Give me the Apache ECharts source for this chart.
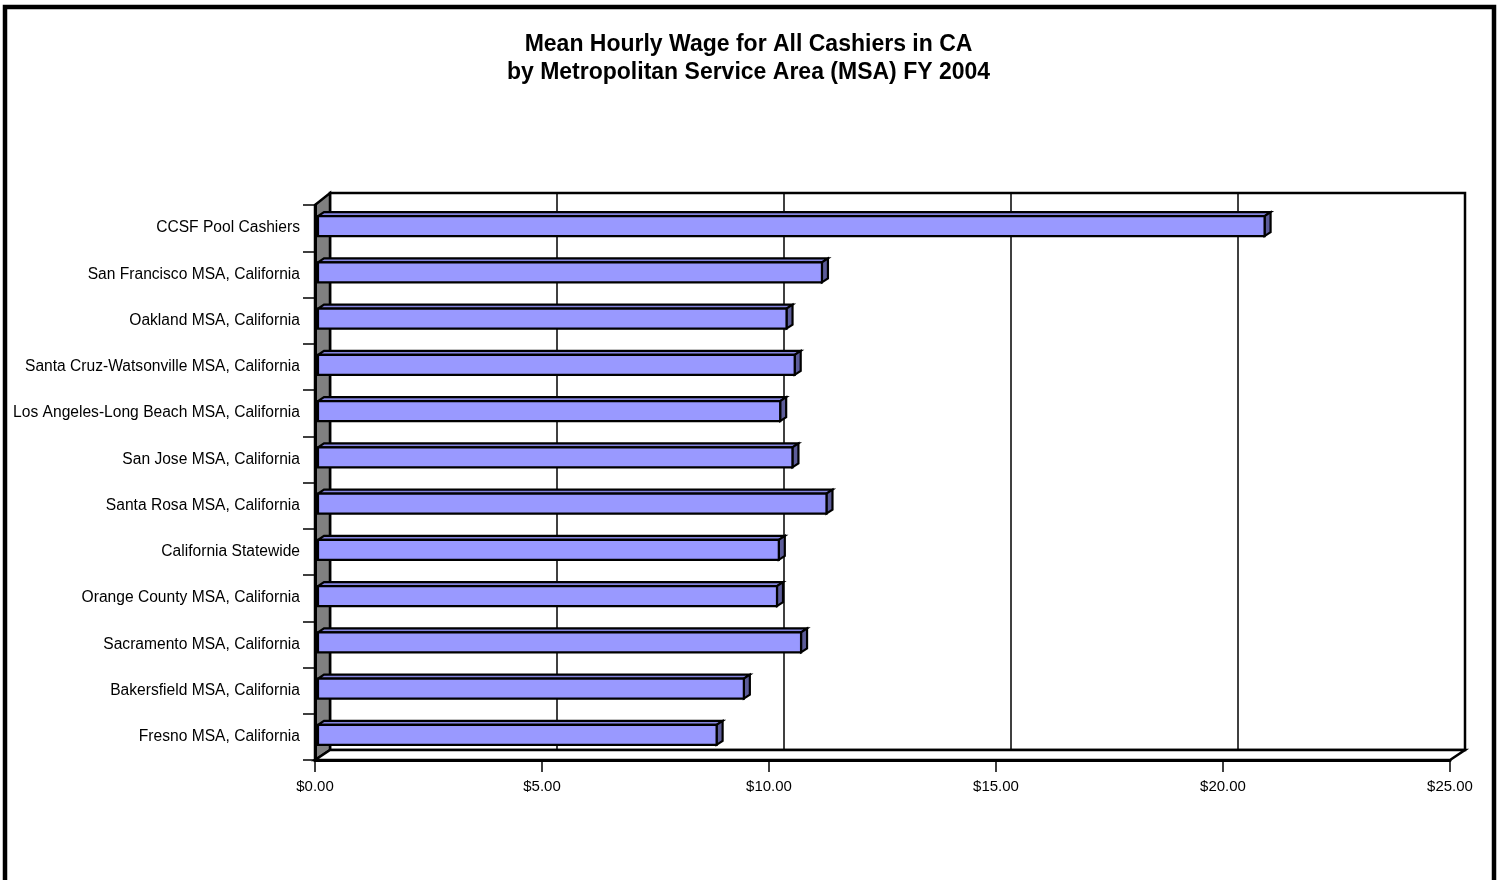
<!DOCTYPE html>
<html>
<head>
<meta charset="utf-8">
<title>Mean Hourly Wage for All Cashiers in CA</title>
<script src="https://cdn.jsdelivr.net/npm/echarts@6/dist/echarts.min.js"></script>
<style>
  html, body { margin: 0; padding: 0; background: #ffffff; }
  #chart { width: 1497px; height: 880px; }
</style>
</head>
<body>
<div id="chart"></div>
<script>
// Categories, top to bottom
const categories = [
  'CCSF Pool Cashiers',
  'San Francisco MSA, California',
  'Oakland MSA, California',
  'Santa Cruz-Watsonville MSA, California',
  'Los Angeles-Long Beach MSA, California',
  'San Jose MSA, California',
  'Santa Rosa MSA, California',
  'California Statewide',
  'Orange County MSA, California',
  'Sacramento MSA, California',
  'Bakersfield MSA, California',
  'Fresno MSA, California'
];

// Mean hourly wage, dollars
const meanWage = [20.85, 11.10, 10.32, 10.50, 10.18, 10.45, 11.20, 10.15, 10.11, 10.64, 9.38, 8.78];

// Value axis ticks
const axisMin = 0;
const axisMax = 25;
const axisStep = 5;

const titleLines = [
  'Mean Hourly Wage for All Cashiers in CA',
  'by Metropolitan Service Area (MSA) FY 2004'
];

// Perspective offset from the front plane to the back wall
const DEPTH_X = 15;
const DEPTH_Y = -10;
const DEPTH_Y_TOP = -12;

const FONT = '"Liberation Sans", Arial, sans-serif';

const chart = echarts.init(document.getElementById('chart'), null, { renderer: 'canvas' });

const barRows = meanWage.map((v, i) => [v, categories[i]]);

// Side wall and floor of the 3-D box, built from the front grid's rectangle
function renderBox(params, api) {
  const cs = params.coordSys;
  const left = cs.x, top = cs.y, right = cs.x + cs.width, bottom = cs.y + cs.height;
  return {
    type: 'group',
    children: [
      {
        type: 'polygon',
        shape: { points: [
          [left, top], [left + DEPTH_X, top + DEPTH_Y_TOP],
          [left + DEPTH_X, bottom + DEPTH_Y], [left, bottom]
        ] },
        style: { fill: '#808080', stroke: '#000', lineWidth: 2.5, lineJoin: 'miter' }
      },
      {
        type: 'polygon',
        shape: { points: [
          [left, bottom], [right, bottom],
          [right + DEPTH_X, bottom + DEPTH_Y], [left + DEPTH_X, bottom + DEPTH_Y]
        ] },
        style: { fill: '#ffffff', stroke: '#000', lineWidth: 2.5, lineJoin: 'miter' }
      }
    ]
  };
}

// Extruded bar: front face, top face and end cap
function renderBar(params, api) {
  const v = api.value(0);
  const cat = api.value(1);
  const start = api.coord([0, cat]);
  const end = api.coord([v, cat]);
  const band = api.size([0, 1])[1];
  const h = band * 0.43;
  const fx = DEPTH_X * 0.2, fy = DEPTH_Y * 0.2;
  const dx = DEPTH_X * 0.4, dy = DEPTH_Y * 0.4;
  const x0 = start[0] + fx;
  const x1 = end[0] + fx;
  const cy = start[1] + fy;
  const top = cy - h / 2;
  const bottom = cy + h / 2;
  const line = { stroke: '#000', lineWidth: 2.2, lineJoin: 'miter' };
  return {
    type: 'group',
    children: [
      {
        type: 'polygon',
        shape: { points: [[x0, top], [x1, top], [x1 + dx, top + dy], [x0 + dx, top + dy]] },
        style: Object.assign({ fill: '#8585e0' }, line)
      },
      {
        type: 'polygon',
        shape: { points: [[x1, top], [x1 + dx, top + dy], [x1 + dx, bottom + dy], [x1, bottom]] },
        style: Object.assign({ fill: '#5c5c99' }, line)
      },
      {
        type: 'rect',
        shape: { x: x0, y: top, width: x1 - x0, height: h },
        style: Object.assign({ fill: '#9999ff' }, line)
      }
    ]
  };
}

const option = {
  backgroundColor: '#ffffff',
  animation: false,
  title: {
    text: titleLines.join('\n'),
    left: 'center',
    top: 26,
    textStyle: {
      fontFamily: FONT,
      fontSize: 23,
      fontWeight: 'bold',
      color: '#000',
      lineHeight: 28
    }
  },
  graphic: [
    {
      type: 'rect',
      shape: { x: 5, y: 7, width: 1489, height: 920 },
      style: { fill: null, stroke: '#000', lineWidth: 4.5 },
      silent: true,
      z: 100
    }
  ],
  grid: [
    // front plane: carries the axes and the bars
    { left: 315, top: 205, width: 1135, height: 555, containLabel: false },
    // back wall: carries the vertical gridlines
    {
      left: 315 + DEPTH_X, top: 205 + DEPTH_Y_TOP, width: 1135, height: 557,
      show: true, backgroundColor: '#ffffff', borderColor: '#000', borderWidth: 2.5, z: 0
    }
  ],
  xAxis: [
    {
      type: 'value', gridIndex: 0, min: axisMin, max: axisMax, interval: axisStep,
      axisLine: { show: true, onZero: false, lineStyle: { color: '#000', width: 3 } },
      axisTick: { show: true, length: 12, lineStyle: { color: '#000', width: 1.5 } },
      axisLabel: {
        margin: 19, color: '#000', fontFamily: FONT, fontSize: 15,
        formatter: v => '$' + v.toFixed(2)
      },
      splitLine: { show: false },
      z: 5
    },
    {
      type: 'value', gridIndex: 1, min: axisMin, max: axisMax, interval: axisStep,
      axisLine: { show: false }, axisTick: { show: false }, axisLabel: { show: false },
      splitLine: { show: true, lineStyle: { color: '#000', width: 1.5 } },
      z: 0
    }
  ],
  yAxis: [
    {
      type: 'category', gridIndex: 0, data: categories, inverse: true,
      axisLine: { show: true, onZero: false, lineStyle: { color: '#000', width: 3 } },
      axisTick: { show: true, length: 12, alignWithLabel: false, lineStyle: { color: '#000', width: 1.5 } },
      axisLabel: {
        margin: 15, color: '#000', fontFamily: FONT, fontSize: 15.6,
        padding: [3, 0, 0, 0]
      },
      splitLine: { show: false },
      z: 5
    },
    {
      type: 'category', gridIndex: 1, data: categories, inverse: true,
      show: false
    }
  ],
  series: [
    {
      type: 'custom',
      name: 'box',
      xAxisIndex: 0, yAxisIndex: 0,
      data: [[0, categories[0]]],
      encode: { x: 0, y: 1 },
      renderItem: renderBox,
      silent: true,
      clip: false,
      z: 1
    },
    {
      type: 'custom',
      name: 'Mean hourly wage',
      xAxisIndex: 0, yAxisIndex: 0,
      data: barRows,
      encode: { x: 0, y: 1 },
      renderItem: renderBar,
      clip: false,
      z: 3
    }
  ]
};

chart.setOption(option);
</script>
</body>
</html>
